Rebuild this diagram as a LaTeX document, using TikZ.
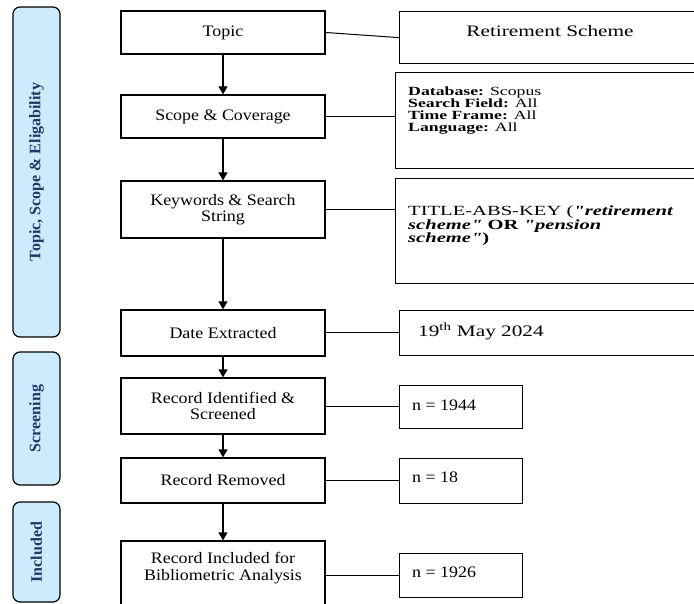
\documentclass[tikz,border=0pt]{standalone}
\usepackage{fontspec}
\setmainfont{Liberation Serif}
\newfontfamily\mainf[FakeStretch=1.12]{Liberation Serif}
\newfontfamily\widef[FakeStretch=1.33]{Liberation Serif}
\newfontfamily\xwidef[FakeStretch=1.42]{Liberation Serif}
\newfontfamily\xxwidef[FakeStretch=1.47]{Liberation Serif}
\usetikzlibrary{arrows.meta}
\definecolor{barfill}{RGB}{204,235,253}
\definecolor{bartext}{RGB}{31,56,100}
\newcommand\tightls{\lineskiplimit -20pt\relax}
\begin{document}
\begin{tikzpicture}[x=1pt,y=-1pt,
  mainbox/.style={draw, line width=1.3pt, minimum width=204pt, inner sep=0pt,
    font=\mainf\fontsize{16}{16.5}\selectfont, align=center},
  sidebox/.style={draw, line width=1.3pt, inner sep=0pt, anchor=north west},
  bar/.style={draw, line width=1.2pt, fill=barfill, rounded corners=7pt, rotate=90,
    minimum height=47pt, inner sep=0pt, text=bartext,
    font=\bfseries\fontsize{16}{18}\selectfont},
  flow/.style={line width=1.3pt, -{Triangle[width=9pt,length=8pt]}},
  link/.style={line width=1pt},
  sidetxt/.style={inner sep=0pt, font=\mainf\fontsize{16}{18}\selectfont},
  widetxt/.style={inner sep=0pt, align=left},
]
\useasboundingbox (0,0) rectangle (694,604);
\clip (0,0) rectangle (694,604);

% left phase bars
\node[bar, minimum width=330pt] (b1) at (36.5,172) {Topic, Scope \& Eligability};
\node[bar, minimum width=133pt] (b2) at (36.5,418.5) {Screening};
\node[bar, minimum width=100pt] (b3) at (36.5,552) {Included};

% main column
\node[mainbox, minimum height=43pt] (topic) at (223,32.5) {Topic};
\node[mainbox, minimum height=43pt] (scope) at (223,116.5) {Scope \& Coverage};
\node[mainbox, minimum height=57pt] (kw) at (223,209.5) {Keywords \& Search\\String};
\node[mainbox, minimum height=46pt] (date) at (223,333) {Date Extracted};
\node[mainbox, minimum height=56pt] (rid) at (223,406) {Record Identified \&\\Screened};
\node[mainbox, minimum height=45pt] (rrem) at (223,480.5) {Record Removed};
\node[mainbox, minimum height=68pt] (inc) at (223,575) {};
\node[mainbox, draw=none, minimum width=0pt] (inctxt) at (223,568) {Record Included for\\Bibliometric Analysis};

% side boxes
\node[sidebox, minimum width=320pt, minimum height=52pt] (ret) at (399,11) {};
\node[sidebox, minimum width=320pt, minimum height=96pt] (db) at (395,72) {};
\node[sidebox, minimum width=320pt, minimum height=105pt] (kwb) at (395,178) {};
\node[sidebox, minimum width=320pt, minimum height=45pt] (dateb) at (399,310) {};
\node[sidebox, minimum width=123pt, minimum height=43pt] (n1) at (399,385) {};
\node[sidebox, minimum width=123pt, minimum height=45pt] (n2) at (399,458) {};
\node[sidebox, minimum width=123pt, minimum height=44pt] (n3) at (399,553) {};

% side texts
\node[widetxt, anchor=base, font=\widef\fontsize{16}{18}\selectfont] (rettxt) at (550,37) {Retirement Scheme};
\node[widetxt, anchor=north west, font={\xwidef\fontsize{12.5}{12}\selectfont\tightls}] (dbtxt) at (408,86.5)
  {\textbf{Database:} Scopus\\\textbf{Search Field:} All\\\textbf{Time Frame:} All\\\textbf{Language:} All};
\node[widetxt, anchor=north west, font={\xxwidef\fontsize{14}{13.5}\selectfont\tightls}] (kwtxt) at (408,206)
  {TITLE-ABS-KEY (\textbf{\textit{"retirement}}\\\textbf{\textit{scheme"} OR \textit{"pension}}\\\textbf{\textit{scheme"})}};
\node[widetxt, anchor=base west, font=\widef\fontsize{16}{18}\selectfont] (datetxt) at (418,336.7) {19\textsuperscript{th} May 2024};
\node[sidetxt, anchor=base west] (n1txt) at (412,410) {n = 1944};
\node[sidetxt, anchor=base west] (n2txt) at (412,482.7) {n = 18};
\node[sidetxt, anchor=base west] (n3txt) at (412,577) {n = 1926};

% flow arrows
\draw[flow] (topic) -- (scope);
\draw[flow] (scope) -- (kw);
\draw[flow] (kw) -- (date);
\draw[flow] (date) -- (rid);
\draw[flow] (rid) -- (rrem);
\draw[flow] (rrem) -- (inc);

% links to side boxes
\draw[link] (topic.east) -- (ret.west);
\draw[link] (scope.east) -- (scope.east -| db.west);
\draw[link] (kw.east) -- (kw.east -| kwb.west);
\draw[link] (date.east) -- (date.east -| dateb.west);
\draw[link] (rid.east) -- (rid.east -| n1.west);
\draw[link] (rrem.east) -- (rrem.east -| n2.west);
\draw[link] (inc.east) -- (inc.east -| n3.west);
\end{tikzpicture}
\end{document}
